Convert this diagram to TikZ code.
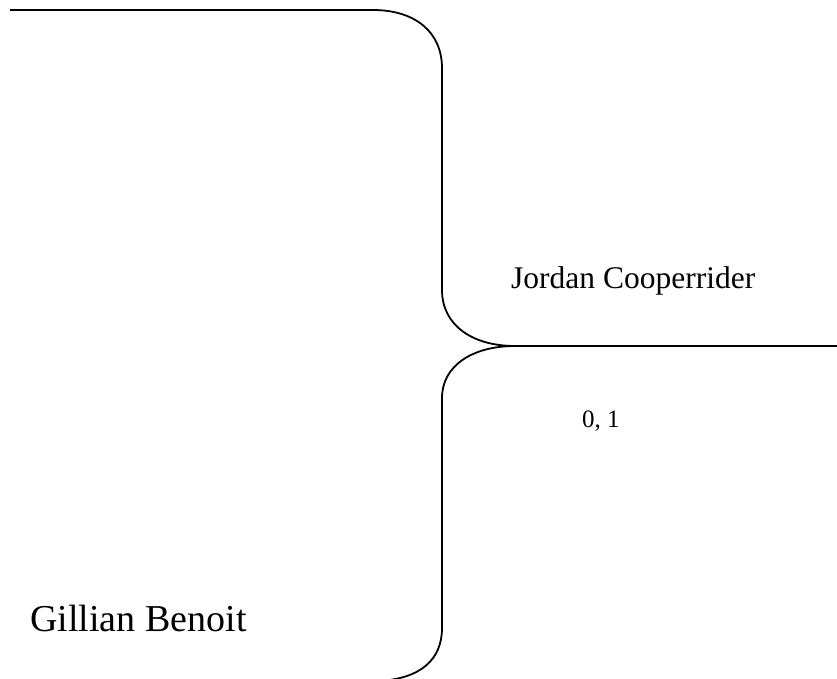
\documentclass[tikz,border=0pt]{standalone}
\usepackage{fontspec}
\setmainfont{Liberation Serif}
\usetikzlibrary{positioning}

\begin{document}
\begin{tikzpicture}[x=1pt, y=-1pt,
        brace/.style={line width=1.8pt, line join=round},
        bar/.style={line width=2.8pt},
        txtlabel/.style={anchor=base west, inner sep=0pt}]

        \useasboundingbox (0,0) rectangle (837,679);

        % Brace
        \draw[brace] (10,10) -- (373,10)
            .. controls (415,10) and (442,32) .. (442,68)
            -- (442,290)
            .. controls (442,325) and (472,346) .. (515,346)
            .. controls (472,346) and (442,366) .. (442,398)
            -- (442,628)
            .. controls (442,660) and (420,679) .. (378,681);
        \coordinate (tip) at (515,346);
        \coordinate (barend) at (837,346);
        \draw[bar] (tip) -- (barend);

        % Labels
        \node[txtlabel, font=\fontsize{31.5}{37}\selectfont] (jordan) at (511,288) {Jordan Cooperrider};
        \node[txtlabel, font=\fontsize{25}{30}\selectfont] (score) at (582,427) {0, 1};
        \node[txtlabel, font=\fontsize{38}{45}\selectfont] (gillian) at (30,631) {Gillian Benoit};

    \end{tikzpicture}
\end{document}
